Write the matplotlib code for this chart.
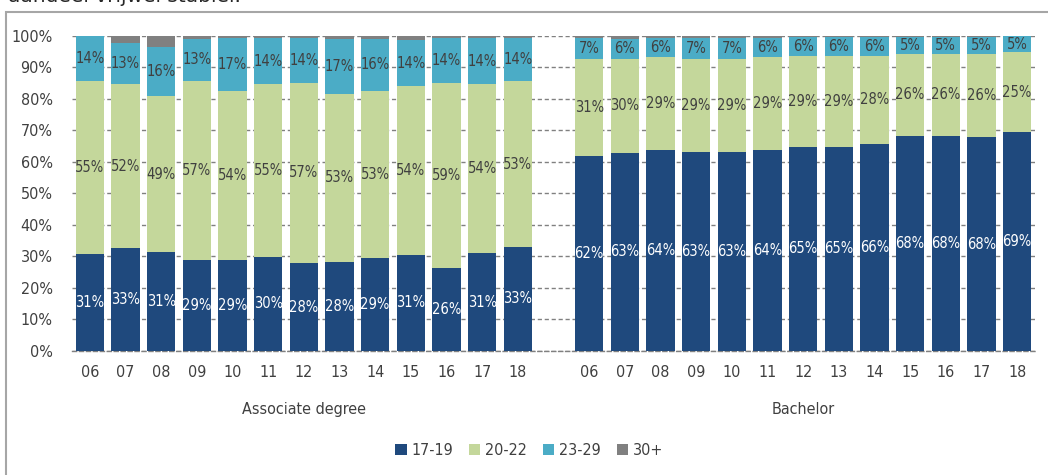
import numpy as np
import matplotlib
matplotlib.use("Agg")
import matplotlib.pyplot as plt
from matplotlib.patches import Rectangle

plt.rcParams["font.family"] = ["DejaVu Sans"]
plt.rcParams["font.stretch"] = "condensed"

years = ["06", "07", "08", "09", "10", "11", "12", "13", "14", "15", "16", "17", "18"]
groups = ["Associate degree", "Bachelor"]
age_bands = ["17-19", "20-22", "23-29", "30+"]

assoc_1719 = [30.8, 32.6, 31.4, 28.9, 28.9, 29.9, 27.9, 28.4, 29.4, 30.6, 26.3, 31.0, 33.0]
assoc_2022 = [54.9, 52.2, 49.4, 56.8, 53.6, 54.9, 57.3, 53.3, 53.2, 53.6, 58.9, 53.8, 52.7]
assoc_2329 = [14.3, 13.0, 15.7, 13.4, 16.9, 14.4, 14.2, 17.3, 16.4, 14.4, 14.2, 14.4, 13.7]
assoc_30 = [0.0, 2.2, 3.5, 0.9, 0.6, 0.8, 0.6, 1.0, 1.0, 1.4, 0.6, 0.8, 0.6]

bach_1719 = [61.9, 62.9, 63.8, 63.3, 63.3, 63.8, 64.9, 64.9, 65.8, 68.4, 68.4, 67.9, 69.4]
bach_2022 = [30.8, 29.8, 29.4, 29.4, 29.4, 29.4, 28.8, 28.8, 27.9, 25.9, 25.9, 26.4, 25.4]
bach_2329 = [6.7, 6.4, 6.1, 6.7, 6.7, 6.1, 6.0, 6.0, 6.0, 5.4, 5.4, 5.4, 5.1]
bach_30 = [0.6, 0.9, 0.7, 0.6, 0.6, 0.7, 0.3, 0.3, 0.3, 0.3, 0.3, 0.3, 0.1]

colors = ["#1F497D", "#C4D79B", "#4BACC6", "#808080"]
label_colors = ["white", "#404040", "#404040", None]
text_col = "#404040"

fig = plt.figure(figsize=(10.48, 4.75), dpi=100)
ax = fig.add_axes([0.0687, 0.2611, 0.9189, 0.6632])

# frame around the chart (continues past the right/bottom edge)
fig.patches.append(Rectangle((6 / 1048, -0.1), 1.2, 0.1 + 1 - 12 / 475,
                             transform=fig.transFigure, fill=False,
                             edgecolor="#a6a6a6", linewidth=1.5, zorder=0))
# tail of the page text above the chart, cut off by the crop as in the source
fig.text(8 / 1048, 1 - 2.5 / 475, "aandeel vrijwel stabiel.", fontsize=14.5,
         fontstretch="normal", color="#262626", va="baseline", ha="left")

n = len(years)
x_assoc = np.arange(n)
x_bach = np.arange(n) + n + 1
series = [
    (x_assoc, [assoc_1719, assoc_2022, assoc_2329, assoc_30]),
    (x_bach, [bach_1719, bach_2022, bach_2329, bach_30]),
]

for xs, segs in series:
    bottom = np.zeros(n)
    for i, vals in enumerate(segs):
        vals = np.array(vals)
        ax.bar(xs, vals, bottom=bottom, width=0.8, color=colors[i],
               linewidth=0, zorder=3, label=age_bands[i] if xs is x_assoc else None)
        if label_colors[i] is not None:
            for x, b, v in zip(xs, bottom, vals):
                ax.text(x, b + v / 2, f"{v:.0f}%", ha="center", va="center",
                        fontsize=10.5, color=label_colors[i], zorder=4)
        bottom += vals

ax.set_ylim(0, 100)
ax.set_xlim(-0.5, 2 * n + 0.5)
ax.set_yticks(np.arange(0, 101, 10))
ax.set_yticklabels([f"{v}%" for v in range(0, 101, 10)])
ax.set_xticks(np.concatenate([x_assoc, x_bach]))
ax.set_xticklabels(years + years)
ax.tick_params(axis="y", length=0, pad=14, labelsize=11.5, labelcolor=text_col)
ax.tick_params(axis="x", length=0, pad=10, labelsize=11.5, labelcolor=text_col)
ax.grid(axis="y", color="#808080", linestyle=(0, (3, 2)), linewidth=1, zorder=0)
for s in ["top", "right", "left"]:
    ax.spines[s].set_visible(False)
ax.spines["bottom"].set_color("#808080")
ax.spines["bottom"].set_linestyle((0, (3, 2)))
ax.spines["bottom"].set_linewidth(1)

for xs, name in zip([x_assoc, x_bach], groups):
    ax.text(xs.mean(), -0.185, name, transform=ax.get_xaxis_transform(),
            ha="center", va="center", fontsize=11.5, color=text_col)

fig.legend(loc="center", bbox_to_anchor=(0.505, 0.052), ncol=4, frameon=False,
           fontsize=11.5, handlelength=0.7, handleheight=0.7, handletextpad=0.3,
           columnspacing=1.0, labelcolor=text_col)

fig.savefig("out.png", dpi=100)
